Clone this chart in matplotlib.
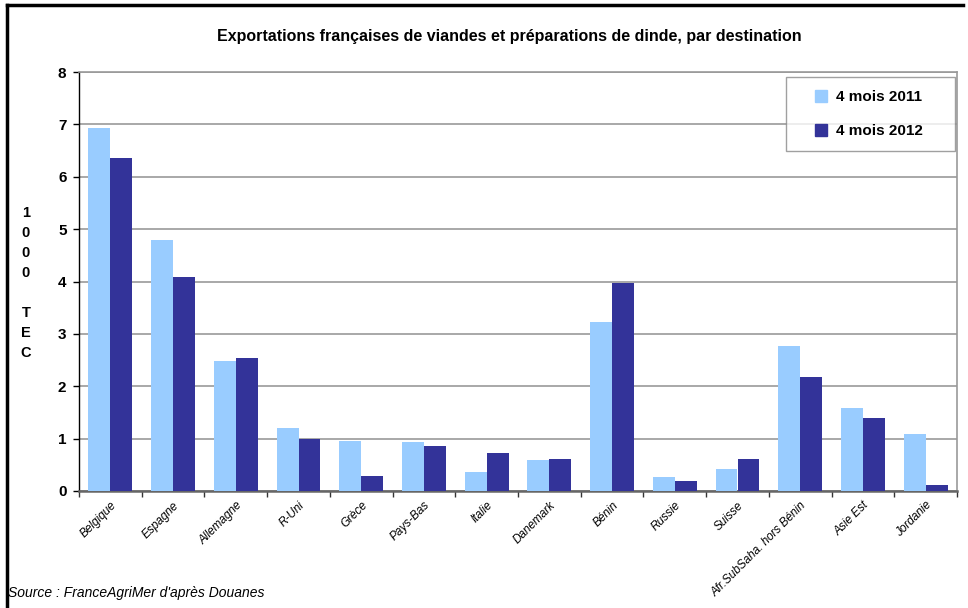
import matplotlib
matplotlib.use("Agg")
import matplotlib.pyplot as plt
import numpy as np
from matplotlib.lines import Line2D

plt.rcParams['font.family'] = ['Liberation Sans', 'DejaVu Sans']

categories = ["Belgique", "Espagne", "Allemagne", "R-Uni", "Grèce", "Pays-Bas", "Italie",
              "Danemark", "Bénin", "Russie", "Suisse", "Afr.SubSaha. hors Bénin",
              "Asie Est", "Jordanie"]
vals_2011 = [6.94, 4.79, 2.49, 1.21, 0.96, 0.93, 0.36, 0.60, 3.22, 0.27, 0.42, 2.77, 1.59, 1.09]
vals_2012 = [6.36, 4.09, 2.54, 1.00, 0.28, 0.85, 0.73, 0.61, 3.97, 0.19, 0.61, 2.18, 1.40, 0.12]
series_labels = ["4 mois 2011", "4 mois 2012"]
yticks = [0, 1, 2, 3, 4, 5, 6, 7, 8]

c2011 = "#99CCFF"
c2012 = "#333399"

fig = plt.figure(figsize=(9.68, 6.08), dpi=100)
ax = fig.add_axes([79/968, 1 - 491/608, (957-79)/968, (491-72)/608])

x = np.arange(len(categories))
w = 0.35
ax.bar(x - w/2, vals_2011, width=w, color=c2011, label=series_labels[0], zorder=3)
ax.bar(x + w/2, vals_2012, width=w, color=c2012, label=series_labels[1], zorder=3)

ax.set_xlim(-0.5, len(categories) - 0.5)
ax.set_ylim(0, 8)
ax.set_yticks(yticks)
ax.set_yticklabels([str(t) for t in yticks], fontsize=11, fontweight='bold')
ax.yaxis.grid(True, color="#999999", linewidth=1.2, zorder=0)
ax.set_axisbelow(True)

# x ticks at category boundaries, labels at centers
ax.set_xticks(np.arange(len(categories) + 1) - 0.5)
ax.set_xticklabels([])
ax.set_xticks(x, minor=True)
ax.set_xticklabels(categories, minor=True, rotation=45, ha='right', rotation_mode='anchor',
                   fontsize=8.5, fontstyle='italic')
ax.tick_params(axis='x', which='minor', length=0, pad=6)
ax.tick_params(axis='x', which='major', length=4, width=1, color='#333333', direction='out')
ax.tick_params(axis='y', length=4, width=1, color='#000000', direction='out', pad=5)

ax.spines['left'].set_color('#000000')
ax.spines['left'].set_linewidth(1.0)
ax.spines['bottom'].set_color('#666666')
ax.spines['bottom'].set_linewidth(1.8)
ax.spines['top'].set_color('#999999')
ax.spines['top'].set_linewidth(1.2)
ax.spines['right'].set_color('#999999')
ax.spines['right'].set_linewidth(1.2)

# Title
fig.text(509/968, 1 - 36/608, "Exportations françaises de viandes et préparations de dinde, par destination",
         ha='center', va='center', fontsize=11.5, fontweight='bold')

# Y label stacked
fig.text(26/968, 1 - 283/608, "1\n0\n0\n0\n\nT\nE\nC", ha='center', va='center',
         fontsize=10.5, fontweight='bold', linespacing=1.54)

# Source
fig.text(8/968, 1 - 593/608, "Source : FranceAgriMer d'après Douanes", ha='left', va='center',
         fontsize=10, fontstyle='italic')

# Legend
handles = [Line2D([], [], marker='s', linestyle='none', markersize=8, color=c2011),
           Line2D([], [], marker='s', linestyle='none', markersize=8, color=c2012)]
leg = ax.legend(handles, series_labels, loc='upper left',
                bbox_to_anchor=(786/968, 1 - 149/608, 169/968, 72/608), mode='expand',
                bbox_transform=fig.transFigure, frameon=True, fancybox=False, shadow=False,
                prop={'size': 11, 'weight': 'bold'}, borderpad=0.85, labelspacing=1.32,
                handletextpad=-0.45, handlelength=2.9, borderaxespad=0)
leg.get_frame().set_edgecolor('#888888')
leg.get_frame().set_linewidth(1.0)
leg.set_zorder(5)

# Outer border (left and top)
fig.add_artist(Line2D([7/968, 7/968], [0, 1 - 5/608], transform=fig.transFigure, color='black', linewidth=2.5))
fig.add_artist(Line2D([7/968, 963/968], [1 - 5/608, 1 - 5/608], transform=fig.transFigure, color='black', linewidth=2.5))

fig.savefig("out.png", dpi=100)
